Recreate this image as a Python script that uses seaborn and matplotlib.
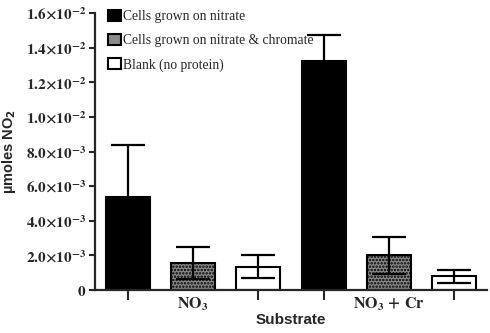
import numpy as np
import pandas as pd
import matplotlib
matplotlib.use("Agg")
import matplotlib.pyplot as plt
import seaborn as sns

# valores (µmoles NO2)
substratos = ["NO3", "NO3 + Cr"]
series = ["Cells grown on nitrate", "Cells grown on nitrate & chromate", "Blank (no protein)"]
medias = {
    "Cells grown on nitrate": [5.4e-3, 13.2e-3],
    "Cells grown on nitrate & chromate": [1.55e-3, 2.0e-3],
    "Blank (no protein)": [1.35e-3, 0.78e-3],
}
erros = {
    "Cells grown on nitrate": [2.95e-3, 1.55e-3],
    "Cells grown on nitrate & chromate": [0.92e-3, 1.05e-3],
    "Blank (no protein)": [0.67e-3, 0.37e-3],
}
yticks = [0, 2e-3, 4e-3, 6e-3, 8e-3, 1e-2, 1.2e-2, 1.4e-2, 1.6e-2]
ytick_labels = ["0", "2.0×10^{-3}", "4.0×10^{-3}", "6.0×10^{-3}", "8.0×10^{-3}",
                "1.0×10^{-2}", "1.2×10^{-2}", "1.4×10^{-2}", "1.6×10^{-2}"]
xtick_labels = [r"$\mathbf{NO_3}$", r"$\mathbf{NO_3\,+\,Cr}$"]

linhas = []
for s in series:
    for i, sub in enumerate(substratos):
        linhas.append({"Substrate": sub, "serie": s, "valor": medias[s][i], "erro": erros[s][i]})
df = pd.DataFrame(linhas)

sns.set_style("ticks")
plt.rcParams["mathtext.fontset"] = "stix"
plt.rcParams["hatch.linewidth"] = 1.2

cores = {"Cells grown on nitrate": "black",
         "Cells grown on nitrate & chromate": "#8a8a8a",
         "Blank (no protein)": "white"}

fig = plt.figure(figsize=(4.9, 3.33), dpi=100)
ax = fig.add_axes([95 / 490, (333 - 290) / 333, (487 - 95) / 490, (290 - 13) / 333])

sns.barplot(data=df, x="Substrate", y="valor", hue="serie", hue_order=series,
            order=substratos, palette=cores, width=1, gap=0.33,
            edgecolor="black", linewidth=1.5, errorbar=None, ax=ax, legend=True)

# hachura pontilhada na série com cromato + barras de erro
for cont, s in zip(ax.containers, series):
    for barra, sub in zip(cont, substratos):
        if s == "Cells grown on nitrate & chromate":
            barra.set_hatch(".....")
        xc = barra.get_x() + barra.get_width() / 2
        linha = df[(df.serie == s) & (df.Substrate == sub)].iloc[0]
        ax.errorbar(xc, linha.valor, yerr=linha.erro, fmt="none", ecolor="black",
                    elinewidth=1.6, capsize=12, capthick=1.6, zorder=5)

ax.set_xlim(-0.5, 1.5)
ax.set_ylim(0, 1.6e-2)
ax.set_yticks(yticks)
ax.set_yticklabels(["$\\mathbf{" + t + "}$" for t in ytick_labels], fontsize=11)
ax.set_xticks([0, 1])
ax.set_xticklabels(xtick_labels, fontsize=11.5)
ax.set_xticks([-1 / 3, 1 / 3, 2 / 3, 4 / 3], minor=True)
ax.tick_params(axis="x", which="major", length=0, pad=4)
ax.tick_params(axis="x", which="minor", length=7, width=1.5)
ax.tick_params(axis="y", length=4, width=1.5, pad=2)
for lado in ["left", "bottom"]:
    ax.spines[lado].set_linewidth(1.6)
sns.despine(ax=ax)

ax.set_xlabel("Substrate", fontsize=11, fontweight="bold", family="Liberation Sans", labelpad=0)
ylab = ax.set_ylabel(r"µmoles NO$_\mathbf{2}$", fontsize=10.5, fontweight="bold",
                     family="Liberation Sans", labelpad=6)
ylab.set_math_fontfamily("dejavusans")

handles, labels = ax.get_legend_handles_labels()
ax.legend(handles, labels, loc="upper left", bbox_to_anchor=(0.02, 1.03), frameon=False,
          prop={"family": "Liberation Serif", "size": 9.8}, handlelength=0.9, handleheight=0.9,
          handletextpad=0.15, labelspacing=0.78, borderaxespad=0)

fig.savefig("out.png", dpi=100)
